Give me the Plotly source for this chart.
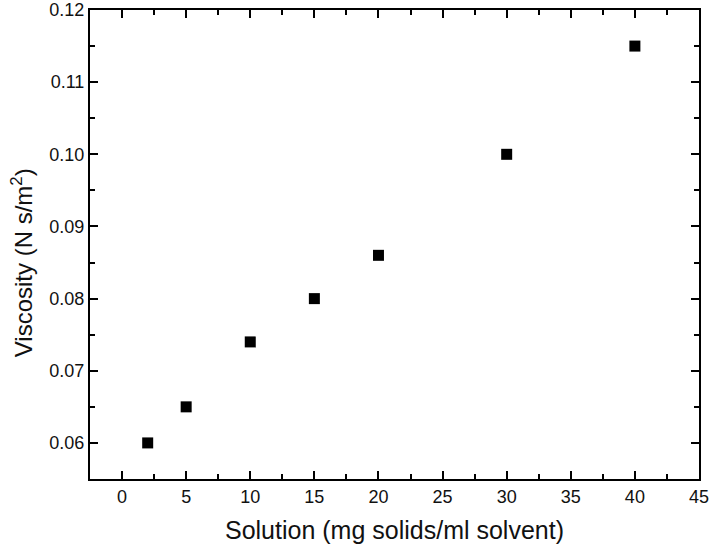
import plotly.graph_objects as go

solution = [2, 5, 10, 15, 20, 30, 40]
viscosity = [0.060, 0.065, 0.074, 0.080, 0.086, 0.100, 0.115]

FONT = "Liberation Sans, Arial"

fig = go.Figure()
fig.add_trace(go.Scatter(
    x=solution, y=viscosity, mode="markers",
    marker=dict(symbol="square", size=11, color="black"),
    showlegend=False,
))

axis_common = dict(
    showline=True, linecolor="black", linewidth=2, mirror="allticks",
    ticks="inside", ticklen=8, tickwidth=2, tickcolor="black",
    showgrid=False, zeroline=False, automargin=False,
    tickfont=dict(family=FONT, size=18, color="#111"),
)

fig.update_xaxes(
    range=[-2.5, 45], tickmode="linear", tick0=0, dtick=5,
    minor=dict(ticks="inside", ticklen=5, tickwidth=2, tickcolor="black", dtick=2.5, tick0=0),
    title=dict(text="Solution (mg solids/ml solvent)", font=dict(family=FONT, size=25, color="#111"), standoff=16),
    **axis_common,
)
fig.update_yaxes(
    range=[0.055, 0.12], tickmode="linear", tick0=0.06, dtick=0.01, tickformat=".2f",
    minor=dict(ticks="inside", ticklen=5, tickwidth=2, tickcolor="black", dtick=0.005, tick0=0.055),
    **axis_common,
)

fig.add_annotation(
    text="Viscosity (N s/m<sup>2</sup>)", textangle=-90,
    xref="paper", yref="paper", x=0, y=0.46,
    xanchor="center", yanchor="middle", xshift=-68, showarrow=False,
    font=dict(family=FONT, size=24, color="#111"),
)

fig.update_layout(
    width=710, height=549,
    margin=dict(l=90, r=11, t=10, b=70),
    plot_bgcolor="white", paper_bgcolor="white",
)

fig.write_html("out.html")
